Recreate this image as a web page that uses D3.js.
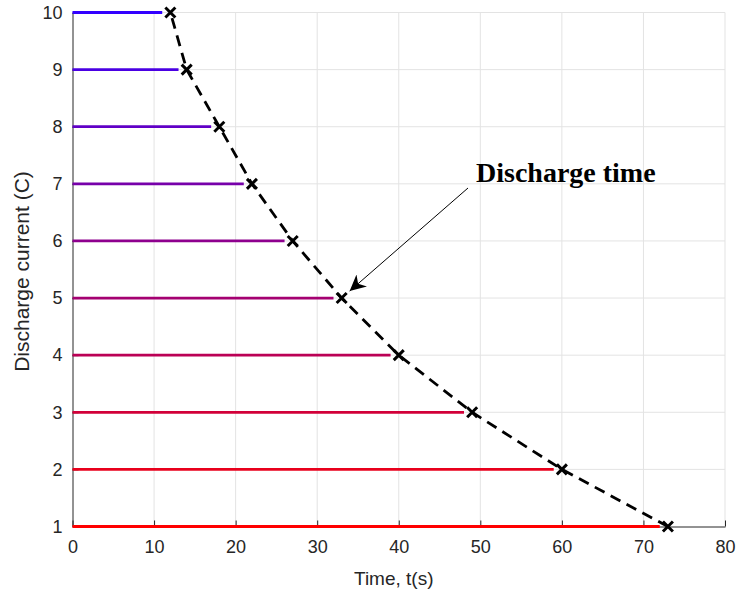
<!DOCTYPE html>
<html><head><meta charset="utf-8">
<script src="https://cdn.jsdelivr.net/npm/d3@7"></script>
<style>body{margin:0;background:#fff;} svg{display:block;}</style>
</head><body>
<svg id="c" width="737" height="596"></svg>
<script>
const currents = [1,2,3,4,5,6,7,8,9,10];
const dischargeTimes = [73,60,49,40,33,27,22,18,14,12];
const lineEnds = [72,59,48,39,32,26,21,17,13,11];
const xTicks = [0,10,20,30,40,50,60,70,80];
const yTicks = [1,2,3,4,5,6,7,8,9,10];
const xLabel = "Time, t(s)";
const yLabel = "Discharge current (C)";
const annotation = "Discharge time";

const svg = d3.select("#c");
const x = d3.scaleLinear().domain([0,80]).range([72.5,725]);
const y = d3.scaleLinear().domain([1,10]).range([526.5,12.5]);
const col = d3.scaleLinear().domain([1,10]).range(["#ff0000","#3300ff"]).interpolate(d3.interpolateRgb);
const axisCol = "#262626";

// grid
const g = svg.append("g");
g.selectAll(".gx").data(xTicks.slice(1)).join("line")
 .attr("x1",d=>x(d)).attr("x2",d=>x(d)).attr("y1",y(1)).attr("y2",y(10))
 .attr("stroke","#e3e3e3").attr("stroke-width",1);
g.selectAll(".gy").data(yTicks.slice(1)).join("line")
 .attr("x1",x(0)).attr("x2",x(80)).attr("y1",d=>y(d)).attr("y2",d=>y(d))
 .attr("stroke","#e3e3e3").attr("stroke-width",1);

// axes
const xa = svg.append("g").attr("transform",`translate(0,${y(1)})`)
 .call(d3.axisBottom(x).tickValues(xTicks).tickSizeInner(-6).tickSizeOuter(0).tickPadding(14));
const ya = svg.append("g").attr("transform",`translate(${x(0)},0)`)
 .call(d3.axisLeft(y).tickValues(yTicks).tickSizeInner(-6).tickSizeOuter(0).tickPadding(10));
[xa,ya].forEach(a=>{
  a.select(".domain").attr("stroke",axisCol).attr("stroke-width",1);
  a.selectAll(".tick line").attr("stroke",axisCol);
  a.selectAll(".tick text").attr("fill",axisCol).attr("font-family","Liberation Sans, Arial, sans-serif").attr("font-size",18);
});

// horizontal lines
svg.append("g").selectAll("line").data(currents).join("line")
 .attr("x1",x(0)).attr("x2",(d,i)=>x(lineEnds[i]))
 .attr("y1",d=>y(d)).attr("y2",d=>y(d))
 .attr("stroke",d=>col(d)).attr("stroke-width",2.8);

// dashed curve
const pts = currents.map((c,i)=>[dischargeTimes[i],c]);
svg.append("path").datum(pts)
 .attr("d",d3.line().x(d=>x(d[0])).y(d=>y(d[1])))
 .attr("fill","none").attr("stroke","#000").attr("stroke-width",2.8)
 .attr("stroke-dasharray","11,7");

// markers
const m = 5;
svg.append("g").selectAll("path").data(pts).join("path")
 .attr("d",d=>{const cx=x(d[0]),cy=y(d[1]);return `M${cx-m},${cy-m}L${cx+m},${cy+m}M${cx-m},${cy+m}L${cx+m},${cy-m}`;})
 .attr("stroke","#000").attr("stroke-width",3).attr("fill","none");

// axis labels
svg.append("text").attr("x",(x(0)+x(80))/2 - 5).attr("y",585).attr("text-anchor","middle")
 .attr("font-family","Liberation Sans, Arial, sans-serif").attr("font-size",19).attr("fill",axisCol).text(xLabel);
svg.append("text").attr("transform",`translate(29,${(y(1)+y(10))/2 + 2}) rotate(-90)`).attr("text-anchor","middle")
 .attr("font-family","Liberation Sans, Arial, sans-serif").attr("font-size",21).attr("fill",axisCol).text(yLabel);

// annotation
svg.append("defs").append("marker").attr("id","ah").attr("viewBox","0 0 10 10").attr("refX",10).attr("refY",5)
 .attr("markerWidth",16).attr("markerHeight",16).attr("markerUnits","userSpaceOnUse").attr("orient","auto")
 .append("path").attr("d","M0,0L10,5L0,10L3,5Z").attr("fill","#000");
svg.append("line").attr("x1",468).attr("y1",188).attr("x2",x(33)+8).attr("y2",y(5)-7)
 .attr("stroke","#000").attr("stroke-width",1).attr("marker-end","url(#ah)");
svg.append("text").attr("x",476).attr("y",182).attr("font-family","Liberation Serif, Times New Roman, serif")
 .attr("font-weight","bold").attr("font-size",28).attr("fill","#000").text(annotation);
</script>
</body></html>
